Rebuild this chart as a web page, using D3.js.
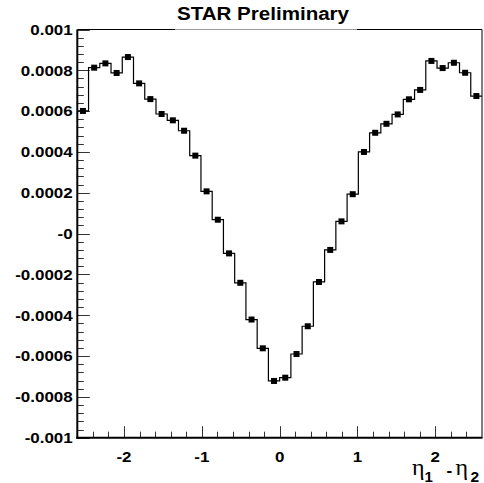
<!DOCTYPE html>
<html><head><meta charset="utf-8">
<script src="https://cdn.jsdelivr.net/npm/d3@7"></script>
<style>
html,body{margin:0;padding:0;background:#fff;}
svg{display:block;}
</style></head>
<body>
<script>
// ---- data ----
const binLow = -2.6, binHigh = 2.6, nBins = 36;
const values = [
  0.000601, 0.000813, 0.000834, 0.000787, 0.000865, 0.000736,
  0.000659, 0.000586, 0.000555, 0.000504, 0.000382, 0.000207,
  0.000068, -0.000097, -0.000241, -0.000421, -0.000562, -0.000722,
  -0.000706, -0.000590, -0.000454, -0.000237, -0.000080, 0.000060,
  0.000193, 0.000400, 0.000494, 0.000538, 0.000584, 0.000658,
  0.000704, 0.000846, 0.000811, 0.000837, 0.000788, 0.000674
];
const xTicks = [-2, -1, 0, 1, 2];
const xTickLabels = ["-2", "-1", "0", "1", "2"];
const yTicks = [0.001, 0.0008, 0.0006, 0.0004, 0.0002, 0, -0.0002, -0.0004, -0.0006, -0.0008, -0.001];
const yTickLabels = ["0.001", "0.0008", "0.0006", "0.0004", "0.0002", "-0", "-0.0002", "-0.0004", "-0.0006", "-0.0008", "-0.001"];
const titleText = "STAR Preliminary";
const axisTitleParts = ["η", "1", "-", "η", "2"];

// ---- layout ----
const W = 484, H = 483;
const L = 77.3, R = 482, T = 29.5, B = 437.7;
const x = d3.scaleLinear().domain([binLow, binHigh]).range([L, R]);
const y = d3.scaleLinear().domain([-0.001, 0.001]).range([B, T]);
const bw = (binHigh - binLow) / nBins;

const svg = d3.select("body").append("svg").attr("width", W).attr("height", H);
svg.append("rect").attr("width", W).attr("height", H).attr("fill", "#fff");

const font = "'Liberation Sans', Arial, Helvetica, sans-serif";
const serif = "'Liberation Serif', 'DejaVu Serif', serif";

// frame
svg.append("line").attr("x1", L).attr("x2", R).attr("y1", T).attr("y2", T).attr("stroke", "#000").attr("stroke-width", 1);
svg.append("line").attr("x1", R).attr("x2", R).attr("y1", T).attr("y2", B).attr("stroke", "#000").attr("stroke-width", 1);

// ticks Y
const yMinor = d3.range(-0.001, 0.0010001, 0.00004);
svg.append("g").selectAll("line").data(yMinor).join("line")
  .attr("x1", L).attr("x2", d => L + (Math.abs(Math.round(d / 0.0002) * 0.0002 - d) < 1e-9 ? 12.5 : 6.5))
  .attr("y1", d => Math.round(y(d)) + 0.5).attr("y2", d => Math.round(y(d)) + 0.5)
  .attr("stroke", "#333").attr("stroke-width", 1);

// ticks X
const xMinor = d3.range(-2.4, 2.41, 0.2);
svg.append("g").selectAll("line").data(xMinor).join("line")
  .attr("x1", d => Math.round(x(d)) + 0.5).attr("x2", d => Math.round(x(d)) + 0.5)
  .attr("y1", B).attr("y2", d => B - (Math.abs(Math.round(d) - d) < 1e-9 ? 11.5 : 6))
  .attr("stroke", "#333").attr("stroke-width", 1);

// axes lines
svg.append("line").attr("x1", L).attr("x2", L).attr("y1", T).attr("y2", B + 1).attr("stroke", "#000").attr("stroke-width", 2);
svg.append("line").attr("x1", L - 1).attr("x2", R + 0.5).attr("y1", B).attr("y2", B).attr("stroke", "#000").attr("stroke-width", 2);

// Y labels
const sx = 1.13;
svg.append("g").selectAll("text").data(yTicks).join("text")
  .attr("transform", d => `translate(72.7,${y(d) + 5.3}) scale(${sx},1)`)
  .attr("text-anchor", "end")
  .attr("font-family", font).attr("font-weight", "bold").attr("font-size", 15)
  .attr("fill", "#000")
  .text((d, i) => yTickLabels[i]);

// X labels
svg.append("g").selectAll("text").data(xTicks).join("text")
  .attr("transform", d => `translate(${x(d)},462.3) scale(${sx},1)`)
  .attr("text-anchor", "middle")
  .attr("font-family", font).attr("font-weight", "bold").attr("font-size", 15)
  .attr("fill", "#000")
  .text((d, i) => xTickLabels[i]);

// histogram step line
const pts = values.map((v, i) => [binLow + i * bw, v]);
pts.push([binHigh, values[values.length - 1]]);
const line = d3.line().x(d => x(d[0])).y(d => y(d[1])).curve(d3.curveStepAfter);
svg.append("path").attr("d", line(pts)).attr("fill", "none").attr("stroke", "#000").attr("stroke-width", 1.2);

// markers
svg.append("g").selectAll("rect").data(values).join("rect")
  .attr("x", (d, i) => x(binLow + (i + 0.5) * bw) - 3)
  .attr("y", d => y(d) - 3)
  .attr("width", 6).attr("height", 6).attr("fill", "#000");

// title box
const tb = svg.append("g");
tb.append("rect").attr("x", 175).attr("y", 0).attr("width", 182).attr("height", T + 0.5).attr("fill", "#fff");
tb.append("line").attr("x1", 175).attr("x2", 357).attr("y1", T).attr("y2", T).attr("stroke", "#999").attr("stroke-width", 1);
tb.append("text")
  .attr("transform", `translate(263,19.5) scale(1.1,1)`)
  .attr("text-anchor", "middle")
  .attr("font-family", font).attr("font-weight", "bold").attr("font-size", 18.7)
  .attr("fill", "#000").text(titleText);

// axis title  η1 - η2 (pieces placed individually)
const atSpec = [
  { x: 412, y: 475, fam: serif, w: "normal", s: 24 },
  { x: 424.5, y: 481.5, fam: font, w: "bold", s: 15 },
  { x: 446.5, y: 476, fam: font, w: "bold", s: 17 },
  { x: 455.5, y: 475, fam: serif, w: "normal", s: 24 },
  { x: 470.5, y: 481.5, fam: font, w: "bold", s: 15.5 }
];
svg.append("g").selectAll("text").data(axisTitleParts).join("text")
  .attr("x", (d, i) => atSpec[i].x).attr("y", (d, i) => atSpec[i].y)
  .attr("font-family", (d, i) => atSpec[i].fam)
  .attr("font-weight", (d, i) => atSpec[i].w)
  .attr("font-size", (d, i) => atSpec[i].s)
  .attr("fill", "#000")
  .text(d => d);
</script>
</body></html>
